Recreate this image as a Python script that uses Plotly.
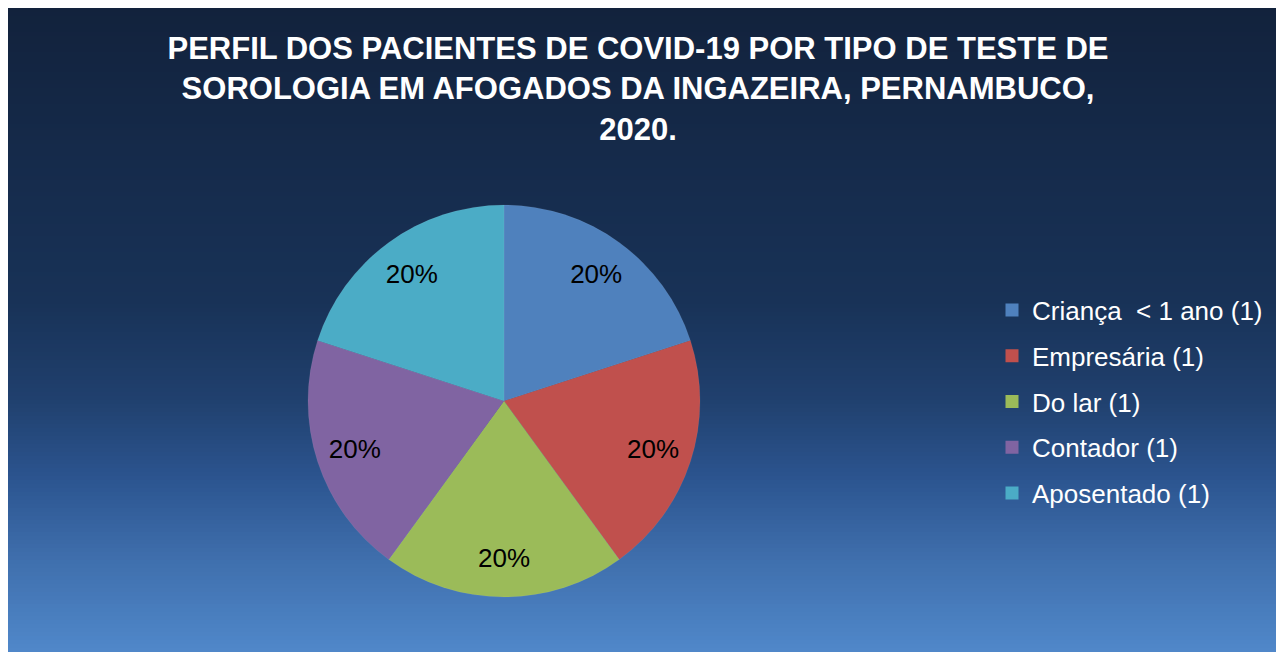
import plotly.graph_objects as go

# data
categorias = ["Criança\u00a0 < 1 ano (1)", "Empresária (1)", "Do lar (1)", "Contador (1)", "Aposentado (1)"]
pacientes = [1, 1, 1, 1, 1]
cores = ["#4f81bd", "#c0504d", "#9bbb59", "#8064a2", "#4bacc6"]

titulo = "PERFIL DOS PACIENTES DE COVID-19 POR TIPO DE TESTE DE<br>SOROLOGIA EM AFOGADOS DA INGAZEIRA, PERNAMBUCO,<br>2020."

# a página tem margem de 8px no body, que dá a borda branca
W, H = 1276, 644
FONT = "Liberation Sans, Arial, sans-serif"

# fundo em degradê (faixas horizontais), y em px a partir do topo da figura
paradas = [
    (0, (18, 34, 60)),
    (142, (21, 42, 74)),
    (292, (24, 50, 87)),
    (392, (32, 64, 110)),
    (472, (44, 85, 144)),
    (552, (63, 111, 173)),
    (644, (80, 136, 202)),
]


def cor_em(y):
    for (y0, c0), (y1, c1) in zip(paradas, paradas[1:]):
        if y0 <= y <= y1:
            t = (y - y0) / (y1 - y0)
            return "rgb({},{},{})".format(*[round(a + (b - a) * t) for a, b in zip(c0, c1)])
    return "rgb({},{},{})".format(*paradas[-1][1])


faixas = []
passo = 4
for y in range(0, H, passo):
    faixas.append(dict(
        type="rect", xref="paper", yref="paper", layer="below",
        x0=0, x1=1, y0=max(1 - (y + passo + 0.5) / H, 0), y1=1 - y / H,
        fillcolor=cor_em(y + passo / 2), line_width=0,
    ))

dominio = dict(x=[300 / W, 692 / W], y=[1 - 589 / H, 1 - 197 / H])

fig = go.Figure()
fig.add_trace(go.Pie(
    labels=categorias,
    values=pacientes,
    sort=False,
    direction="clockwise",
    rotation=0,
    marker=dict(colors=cores, line=dict(color="rgba(255,255,255,0.12)", width=0.5)),
    textinfo="none",
    domain=dominio,
    showlegend=False,
    hoverinfo="label+percent",
))
# rótulos de porcentagem, numa coroa transparente para ficarem perto da borda
fig.add_trace(go.Pie(
    labels=categorias,
    values=pacientes,
    sort=False,
    direction="clockwise",
    rotation=0,
    hole=0.6,
    marker=dict(colors=["rgba(0,0,0,0)"] * len(cores), line=dict(width=0)),
    textinfo="percent",
    texttemplate="%{percent:.0%}",
    textposition="inside",
    insidetextorientation="horizontal",
    textfont=dict(family=FONT, size=26, color="black"),
    domain=dominio,
    showlegend=False,
    hoverinfo="skip",
))

# legenda com um item por categoria
for nome, cor in zip(categorias, cores):
    fig.add_trace(go.Scatter(
        x=[None], y=[None], mode="markers", name=nome, legendgroup=nome,
        marker=dict(symbol="square", size=13, color=cor),
    ))

fig.update_layout(
    width=W, height=H,
    margin=dict(l=0, r=0, t=0, b=0),
    paper_bgcolor="#12223c",
    plot_bgcolor="rgba(0,0,0,0)",
    shapes=faixas,
    xaxis=dict(visible=False),
    yaxis=dict(visible=False),
    title=dict(
        text=titulo, x=630 / W, xanchor="center", yref="container",
        y=1 - 51 / H, yanchor="top",
        font=dict(family=FONT, size=31, color="white", weight="bold"),
    ),
    legend=dict(
        x=984 / W, xanchor="left", y=1 - 394 / H, yanchor="middle",
        font=dict(family=FONT, size=26, color="white"),
        bgcolor="rgba(0,0,0,0)", tracegroupgap=9,
    ),
)

fig.write_html("out.html")
